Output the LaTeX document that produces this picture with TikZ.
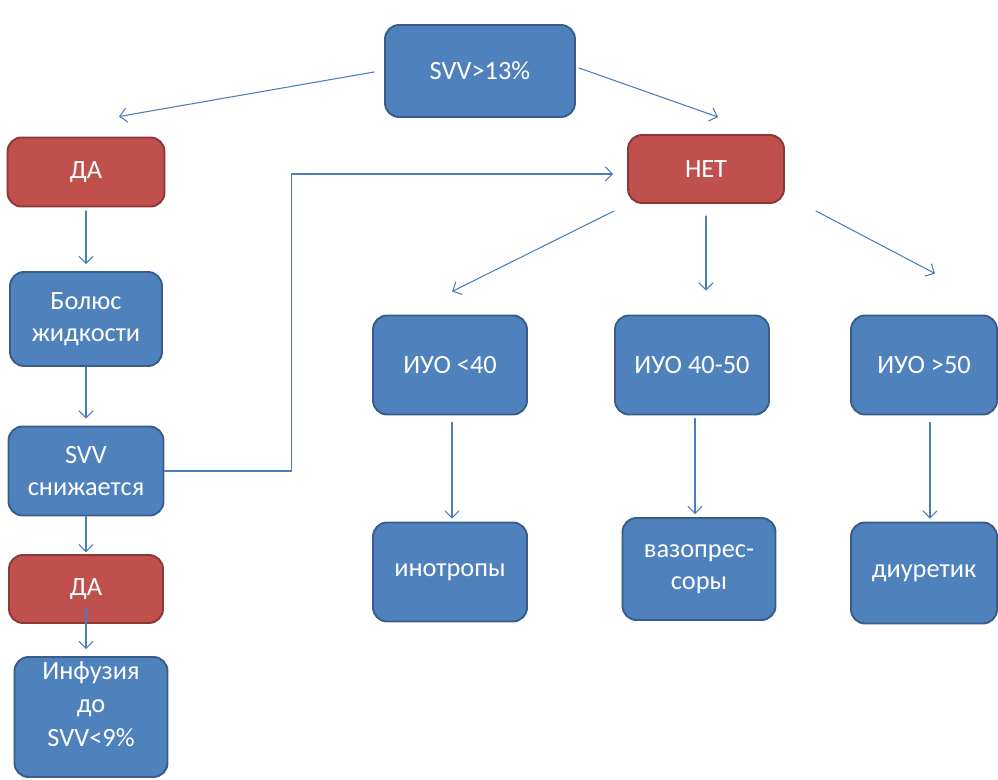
\documentclass[tikz,border=0pt]{standalone}
\usepackage{fontspec}
\setmainfont{Carlito}
\usepackage{xcolor}
\usetikzlibrary{arrows.meta, positioning, calc}

\definecolor{boxblue}{HTML}{4F81BD}
\definecolor{boxblueline}{HTML}{385D8A}
\definecolor{boxred}{HTML}{C0504D}
\definecolor{boxredline}{HTML}{8C3836}
\definecolor{arrowblue}{HTML}{4A7EBB}

\begin{document}
\begin{tikzpicture}[>={Straight Barb[length=4pt,width=8pt]}, line cap=round, line join=round, x=0.02cm, y=-0.02cm,
    box/.style={rectangle, rounded corners=8pt, line width=1.1pt, text=white, align=center,
        font=\fontsize{15}{18}\selectfont, inner sep=2pt},
    bluebox/.style={box, fill=boxblue, draw=boxblueline},
    redbox/.style={box, fill=boxred, draw=boxredline},
    arr/.style={->, draw=arrowblue, line width=0.6pt}]

    \useasboundingbox[fill=white] (0,0) rectangle (998,780);

    % Question
    \node[bluebox, minimum width=3.8cm, minimum height=1.84cm] (svvhigh) at (480,71) {SVV>13\%};

    % Answers
    \node[redbox, minimum width=3.14cm, minimum height=1.38cm] (yesA) at (86,172) {ДА};
    \node[redbox, minimum width=3.12cm, minimum height=1.36cm] (no) at (706,169) {НЕТ};

    % Left column: fluid
    \node[bluebox, minimum width=3.04cm, minimum height=1.88cm] (bolus) at (86,319) {Болюс\\жидкости};
    \node[bluebox, minimum width=3.1cm, minimum height=1.78cm] (svvdown) at (86,471) {SVV\\снижается};
    \node[redbox, minimum width=3.08cm, minimum height=1.36cm] (yesB) at (86,589) {ДА};
    \node[bluebox, minimum width=3.06cm, minimum height=2.4cm, font=\fontsize{15}{19}\selectfont]
        (infusion) at (91,717) {Инфузия\\до\\SVV<9\%\\[-4pt]\mbox{}};

    % Stroke volume index
    \node[bluebox, minimum width=3.08cm, minimum height=1.98cm] (iuolow) at (450,365) {ИУО <40};
    \node[bluebox, minimum width=3.08cm, minimum height=1.98cm] (iuomid) at (692,365) {ИУО 40-50};
    \node[bluebox, minimum width=2.92cm, minimum height=1.98cm] (iuohigh) at (924,365) {ИУО >50};

    % Drugs
    \node[bluebox, minimum width=3.08cm, minimum height=1.98cm] (inotrop) at (450,572) {инотропы};
    \node[bluebox, minimum width=3.06cm, minimum height=2.04cm] (vaso) at (699,569) {вазопрес-\\соры};
    \node[bluebox, minimum width=2.92cm, minimum height=2.02cm] (diuretic) at (924,573) {диуретик};

    % Arrows from the question
    \draw[arr] ($(svvhigh.west)+(-10,1)$) -- ($(yesA.north)+(33,-20)$);
    \draw[arr] ($(svvhigh.east)+(3,-3)$) -- ($(no.north)+(12,-17)$);

    % Left column arrows
    \draw[arr, shorten <=2pt, shorten >=4pt] (yesA) -- (bolus);
    \draw[arr, shorten >=4pt] (bolus) -- (svvdown);
    \draw[arr, shorten >=1pt] (svvdown) -- (yesB);
    \draw[arr, shorten <=11pt, shorten >=4pt] (yesB.center) -- (yesB.center |- infusion.north);
    \draw[arr] (svvdown.east) -- ++(127,0) |- ($(no.west)+(-14,5)$);

    % Arrows from НЕТ
    \draw[arr] ($(no.south west)+(-13,7)$) -- ($(iuolow.north)+(2,-23)$);
    \draw[arr] ($(no.south)+(0,12)$) -- ($(no.south |- iuomid.north)+(0,-24)$);
    \draw[arr] ($(no.south east)+(31,7)$) -- ($(iuohigh.north)+(11,-41)$);

    % Arrows to the drugs
    \draw[arr] ($(iuolow.south)+(2,7)$) -- ($(iuolow.south |- inotrop.north)+(2,-3)$);
    \draw[arr] ($(iuomid.south)+(3,3)$) -- ($(iuomid.south |- vaso.north)+(3,-3)$);
    \draw[arr] ($(iuohigh.south)+(6,7)$) -- ($(iuohigh.south |- diuretic.north)+(6,-3)$);

\end{tikzpicture}
\end{document}
